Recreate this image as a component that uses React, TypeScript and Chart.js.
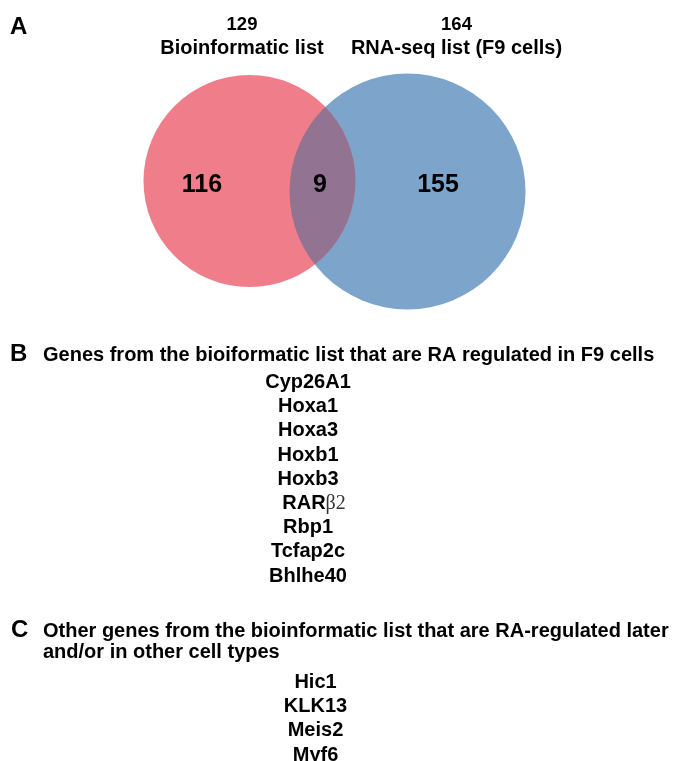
import React, { useEffect, useRef } from "react";
import { Chart, registerables } from "chart.js";

Chart.register(...registerables);

// ---- data ----
const setNames = ["Bioinformatic list", "RNA-seq list (F9 cells)"];
const setTotals = [129, 164];
const regionCounts = [116, 9, 155]; // only A, A∩B, only B
const panelLetters = ["A", "B", "C"];
const headingB = ["Genes from the bioiformatic list that are RA regulated in F9 cells"];
const headingC = [
  "Other genes from the bioinformatic list that are RA-regulated later",
  "and/or in other cell types",
];
const genesB = ["Cyp26A1", "Hoxa1", "Hoxa3", "Hoxb1", "Hoxb3", "RARβ2", "Rbp1", "Tcfap2c", "Bhlhe40"];
const genesC = ["Hic1", "KLK13", "Meis2", "Myf6"];

// ---- layout (pixel-space coordinates of the figure) ----
const W = 679;
const H = 761;
const circleLayout = [
  { x: 249.5, y: 181, r: 106 },
  { x: 407.5, y: 191.5, r: 118 },
];
const colors = ["#EF7E8A", "#7DA5CC"];
const overlapColor = "#937392";
const regionLabelX = [202, 320, 438];
const regionLabelY = 192;
const setTitleX = [242, 456.5];
const SANS = "'Liberation Sans', Arial, Helvetica, sans-serif";
const SERIF = "'Liberation Serif', 'Times New Roman', serif";

const textPlugin = {
  id: "vennText",
  afterDatasetsDraw(chart: any) {
    const ctx: CanvasRenderingContext2D = chart.ctx;
    const xs = chart.scales.x;
    const ys = chart.scales.y;
    const px = (v: number) => xs.getPixelForValue(v);
    const py = (v: number) => ys.getPixelForValue(v);

    // overlap lens
    const a = chart.getDatasetMeta(0).data[0] as any;
    const b = chart.getDatasetMeta(1).data[0] as any;
    if (a && b) {
      ctx.save();
      ctx.beginPath();
      ctx.arc(a.x, a.y, a.options.radius, 0, Math.PI * 2);
      ctx.clip();
      ctx.beginPath();
      ctx.arc(b.x, b.y, b.options.radius, 0, Math.PI * 2);
      ctx.fillStyle = overlapColor;
      ctx.fill();
      ctx.restore();
    }

    ctx.save();
    ctx.fillStyle = "#000";
    ctx.textBaseline = "alphabetic";

    // panel letters
    ctx.textAlign = "left";
    ctx.font = `bold 24px ${SANS}`;
    ctx.fillText(panelLetters[0], px(10), py(34));
    ctx.fillText(panelLetters[1], px(10), py(361));
    ctx.fillText(panelLetters[2], px(11), py(637));

    // set titles
    ctx.textAlign = "center";
    setNames.forEach((name, i) => {
      ctx.font = `bold 18.5px ${SANS}`;
      ctx.fillText(String(setTotals[i]), px(setTitleX[i]), py(29.5));
      ctx.font = `bold 20px ${SANS}`;
      ctx.fillText(name, px(setTitleX[i]), py(54));
    });

    // region counts
    ctx.font = `bold 25px ${SANS}`;
    regionCounts.forEach((c, i) => {
      ctx.fillText(String(c), px(regionLabelX[i]), py(regionLabelY));
    });

    // headings
    ctx.textAlign = "left";
    ctx.font = `bold 20px ${SANS}`;
    ctx.fillText(headingB[0], px(43), py(361));
    ctx.fillText(headingC[0], px(43), py(637));
    ctx.fillText(headingC[1], px(43), py(658));

    // gene list B
    const stepB = 24.2;
    genesB.forEach((g, i) => {
      const y = py(388 + stepB * i);
      if (g.includes("β")) {
        const idx = g.indexOf("β");
        const p1 = g.slice(0, idx);
        const p2 = g.slice(idx);
        ctx.font = `bold 20px ${SANS}`;
        const w1 = ctx.measureText(p1).width;
        ctx.font = `20px ${SERIF}`;
        const w2 = ctx.measureText(p2).width;
        const left = px(314) - (w1 + w2) / 2;
        ctx.textAlign = "left";
        ctx.font = `bold 20px ${SANS}`;
        ctx.fillText(p1, left, y);
        ctx.font = `20px ${SERIF}`;
        ctx.fillStyle = "#333";
        ctx.fillText(p2, left + w1, y);
        ctx.fillStyle = "#000";
      } else {
        ctx.textAlign = "center";
        ctx.font = `bold 20px ${SANS}`;
        ctx.fillText(g, px(308), y);
      }
    });

    // gene list C
    ctx.textAlign = "center";
    ctx.font = `bold 20px ${SANS}`;
    genesC.forEach((g, i) => {
      ctx.fillText(g, px(315.5), py(688 + 24.2 * i));
    });

    ctx.restore();
  },
};

export default function App() {
  const ref = useRef<HTMLCanvasElement | null>(null);
  useEffect(() => {
    if (!ref.current) return;
    const chart = new Chart(ref.current, {
      type: "bubble",
      data: {
        datasets: setNames.map((name, i) => ({
          label: name,
          data: [{ x: circleLayout[i].x, y: circleLayout[i].y, r: circleLayout[i].r }],
          backgroundColor: colors[i],
          borderWidth: 0,
          hoverRadius: 0,
          clip: false as any,
        })),
      },
      options: {
        responsive: false,
        animation: false,
        events: [],
        layout: { padding: 0, autoPadding: false },
        scales: {
          x: { type: "linear", min: 0, max: W, display: false },
          y: { type: "linear", min: 0, max: H, reverse: true, display: false },
        },
        plugins: { legend: { display: false }, tooltip: { enabled: false } },
      },
      plugins: [textPlugin],
    });
    return () => chart.destroy();
  }, []);
  return (
    <div style={{ position: "absolute", left: 0, top: 0, width: W, height: H, background: "#fff" }}>
      <canvas ref={ref} width={W} height={H} style={{ display: "block" }} />
    </div>
  );
}
